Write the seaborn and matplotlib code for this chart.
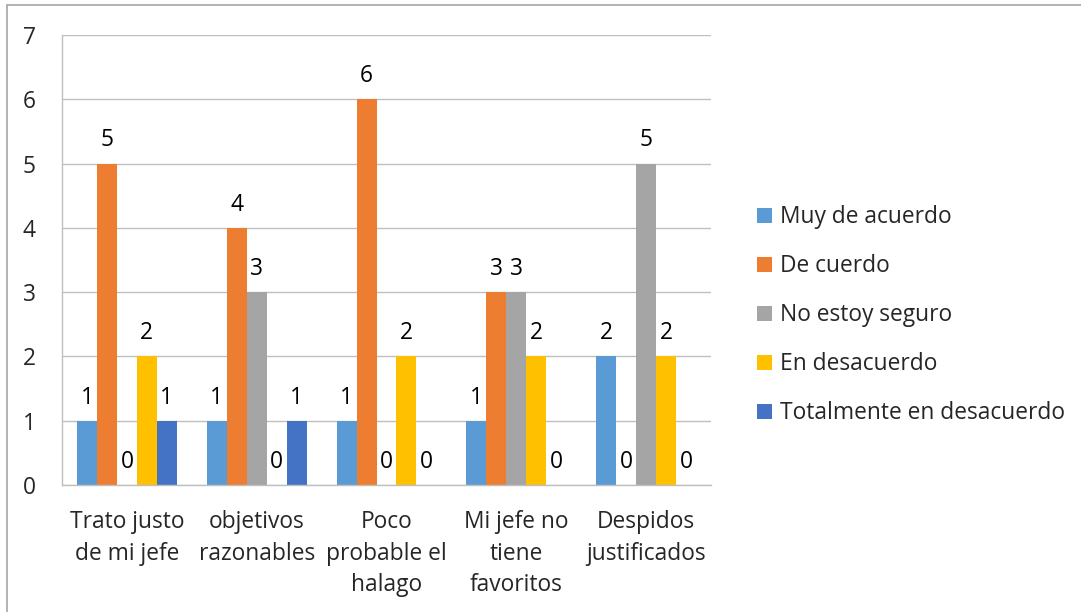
import matplotlib
matplotlib.use("Agg")
import matplotlib.pyplot as plt
from matplotlib.patches import Patch
from matplotlib.lines import Line2D
import seaborn as sns
import pandas as pd

categories = ["Trato justo\nde mi jefe", "objetivos\nrazonables", "Poco\nprobable el\nhalago",
              "Mi jefe no\ntiene\nfavoritos", "Despidos\njustificados"]
series = ["Muy de acuerdo", "De cuerdo", "No estoy seguro", "En desacuerdo", "Totalmente en desacuerdo"]
muy_de_acuerdo = [1, 1, 1, 1, 2]
de_cuerdo = [5, 4, 6, 3, 0]
no_estoy_seguro = [0, 3, 0, 3, 5]
en_desacuerdo = [2, 0, 2, 2, 2]
totalmente_en_desacuerdo = [1, 1, 0, 0, 0]
colors = ["#5B9BD5", "#ED7D31", "#A5A5A5", "#FFC000", "#4472C4"]
y_ticks = [0, 1, 2, 3, 4, 5, 6, 7]

values = [muy_de_acuerdo, de_cuerdo, no_estoy_seguro, en_desacuerdo, totalmente_en_desacuerdo]
rows = []
for s, vals in zip(series, values):
    for c, v in zip(categories, vals):
        rows.append({"categoria": c, "respuesta": s, "valor": v})
df = pd.DataFrame(rows)

sns.set_style("white")
plt.rcParams["font.family"] = ["Open Sans", "DejaVu Sans"]
FS = 16.4

fig = plt.figure(figsize=(10.81, 6.12), dpi=100)
W, H = 1081, 612
ax = fig.add_axes([62 / W, 1 - 485 / H, (711 - 62) / W, (485 - 35) / H])

sns.barplot(data=df, x="categoria", y="valor", hue="respuesta", order=categories,
            hue_order=series, palette=dict(zip(series, colors)), width=100 / 130,
            gap=0, linewidth=0, saturation=1, ax=ax, legend=False)

grid_col = "#BFBFBF"
ax.set_ylim(0, 7)
ax.set_xlim(-0.5, len(categories) - 0.5)
ax.set_yticks(y_ticks)
ax.yaxis.grid(True, color=grid_col, linewidth=1.0)
ax.set_axisbelow(True)
ax.set_xlabel("")
ax.set_ylabel("")
for side in ["top", "right"]:
    ax.spines[side].set_visible(False)
for side in ["left", "bottom"]:
    ax.spines[side].set_color(grid_col)
    ax.spines[side].set_linewidth(1.0)

ax.tick_params(axis="y", length=6, color=grid_col, width=1.0, pad=13, labelsize=FS)
ax.tick_params(axis="x", which="major", length=0, pad=18, labelsize=FS)
ax.set_xticks([i - 0.5 for i in range(len(categories) + 1)], minor=True)
ax.tick_params(axis="x", which="minor", length=6, color=grid_col, width=1.0)
for lbl in ax.get_xticklabels():
    lbl.set_linespacing(1.42)
    lbl.set_multialignment("center")

for cont in ax.containers:
    ax.bar_label(cont, fmt="%d", padding=8, fontsize=FS, color="black")

handles = [Patch(facecolor=c, edgecolor="none") for c in colors]
fig.legend(handles, series, loc="upper left", bbox_to_anchor=(748 / W, 1 - 196 / H),
           frameon=False, fontsize=FS, handlelength=0.65, handleheight=0.65,
           handletextpad=0.35, labelspacing=1.1, borderaxespad=0)

border = "#A6A6A6"
fig.add_artist(Line2D([7 / W, 1], [1 - 5 / H, 1 - 5 / H], color=border, linewidth=1.2))
fig.add_artist(Line2D([7 / W, 7 / W], [0, 1 - 5 / H], color=border, linewidth=1.2))

fig.savefig("out.png", dpi=100)
